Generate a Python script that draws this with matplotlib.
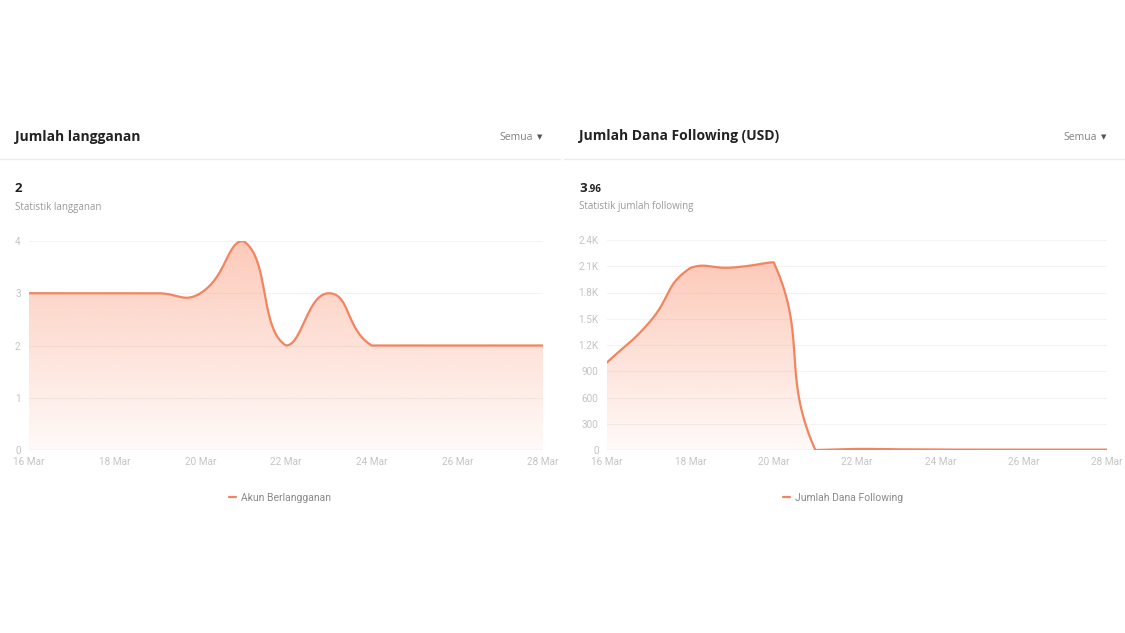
import numpy as np
import matplotlib
matplotlib.use("Agg")
import matplotlib.pyplot as plt
from matplotlib.lines import Line2D

# ---------------- data ----------------
days = [16, 17, 18, 19, 20, 21, 22, 23, 24, 25, 26, 27, 28]
tick_days = [16, 18, 20, 22, 24, 26, 28]
tick_labels = ["16 Mar", "18 Mar", "20 Mar", "22 Mar", "24 Mar", "26 Mar", "28 Mar"]

subs_values = [3, 3, 3, 3, 3, 4, 2, 3, 2, 2, 2, 2, 2]
subs_yticks = [0, 1, 2, 3, 4]
subs_ylabels = ["0", "1", "2", "3", "4"]

fund_values = [1000, 1450, 2080, 2085, 2145, 0, 12, 8, 5, 4, 4, 4, 3.96]
fund_yticks = [0, 300, 600, 900, 1200, 1500, 1800, 2100, 2400]
fund_ylabels = ["0", "300", "600", "900", "1.2K", "1.5K", "1.8K", "2.1K", "2.4K"]

LINE = "#f2845f"
TICK_C = "#c4c4c4"
GRID_C = "#f3f3f3"

W, H = 1125, 633
fig = plt.figure(figsize=(W / 100, H / 100), dpi=100)
fig.patch.set_facecolor("white")


def fx(px):
    return px / W


def fy(py):
    return 1 - py / H


def smooth_curve(ax, xs, ys, smooth=0.5, n=60):
    pts = ax.transData.transform(np.column_stack([xs, ys]).astype(float))
    mn, mx = pts.min(axis=0), pts.max(axis=0)
    N = len(pts)
    cps = []
    for i in range(N):
        p = pts[i]
        prev = pts[i - 1] if i > 0 else p
        nxt = pts[i + 1] if i < N - 1 else p
        v = (nxt - prev) * smooth
        d0 = np.hypot(*(p - prev))
        d1 = np.hypot(*(p - nxt))
        s = d0 + d1
        if s:
            d0 /= s
            d1 /= s
        cp0 = np.clip(p - v * d0, mn, mx)
        cp1 = np.clip(p + v * d1, mn, mx)
        cps.append((cp0, cp1))
    t = np.linspace(0, 1, n)[:, None]
    out = [pts[0][None, :]]
    for i in range(N - 1):
        p0, c0, c1, p1 = pts[i], cps[i][1], cps[i + 1][0], pts[i + 1]
        seg = ((1 - t) ** 3) * p0 + 3 * ((1 - t) ** 2) * t * c0 + 3 * (1 - t) * t ** 2 * c1 + t ** 3 * p1
        out.append(seg[1:])
    curve = np.vstack(out)
    data = ax.transData.inverted().transform(curve)
    return data[:, 0], data[:, 1]


def draw_chart(box, values, yticks, ylabels, legend_label, legend_cx):
    x0, x1, ytop, ybot = box
    ax = fig.add_axes([fx(x0), fy(ybot), fx(x1 - x0), (ybot - ytop) / H])
    ax.set_xlim(days[0], days[-1])
    ax.set_ylim(yticks[0], yticks[-1])
    for s in ax.spines.values():
        s.set_visible(False)
    ax.set_facecolor("none")
    for yv in yticks[1:]:
        ax.axhline(yv, color=GRID_C, lw=0.8, zorder=0)
    ax.axhline(0, color="#dcdcdc", lw=1.0, zorder=3)

    cx, cy = smooth_curve(ax, days, values)
    poly = ax.fill_between(cx, cy, 0, color="none", lw=0)
    ymax = max(values)
    grad = np.zeros((256, 1, 4))
    rgb = matplotlib.colors.to_rgb("#fb9574")
    grad[:, 0, :3] = rgb
    grad[:, 0, 3] = np.linspace(0.5, 0.05, 256)
    im = ax.imshow(grad, extent=[days[0], days[-1], 0, ymax], aspect="auto",
                   origin="upper", zorder=1, interpolation="bilinear")
    path = poly.get_paths()[0]
    im.set_clip_path(path, transform=ax.transData)
    ax.set_ylim(yticks[0], yticks[-1])
    ax.set_xlim(days[0], days[-1])
    ax.plot(cx, cy, color=LINE, lw=1.6, zorder=4, solid_capstyle="round",
            label=legend_label)

    ax.set_yticks(yticks)
    ax.set_yticklabels(ylabels)
    ax.set_xticks(tick_days)
    ax.set_xticklabels(tick_labels)
    ax.tick_params(axis="both", length=0, labelsize=7.2, labelcolor=TICK_C)
    ax.tick_params(axis="y", pad=6)
    ax.tick_params(axis="x", pad=5)
    for lbl in ax.get_xticklabels() + ax.get_yticklabels():
        lbl.set_fontfamily("Roboto")

    leg = ax.legend(loc="center", bbox_to_anchor=(fx(legend_cx), fy(498)),
                    bbox_transform=fig.transFigure, frameon=False,
                    handlelength=0.7, handletextpad=0.5,
                    prop={"family": "Roboto", "size": 7.5})
    for txt in leg.get_texts():
        txt.set_color("#8a8a8a")
    return ax


# --------------- headers ---------------
HEAD = "Open Sans"
fig.text(fx(15), fy(137), "Jumlah langganan", fontsize=10, fontweight="bold",
         color="#222222", va="center", ha="left", family=HEAD)
fig.text(fx(579), fy(136), "Jumlah Dana Following (USD)", fontsize=10, fontweight="bold",
         color="#222222", va="center", ha="left", family=HEAD)
for xr in (533, 1097):
    fig.text(fx(xr), fy(137), "Semua", fontsize=7.5, color="#808080",
             va="center", ha="right", family=HEAD)
    fig.text(fx(xr + 4), fy(137), "\u25BC", fontsize=5, color="#555555",
             va="center", ha="left", family="DejaVu Sans")

fig.add_artist(Line2D([0, fx(560)], [fy(159), fy(159)], color="#ececec", lw=1))
fig.add_artist(Line2D([fx(564), 1], [fy(159), fy(159)], color="#ececec", lw=1))

fig.text(fx(15), fy(188.5), "2", fontsize=9.5, fontweight="bold", color="#222222",
         va="center", ha="left", family=HEAD)
fig.text(fx(15), fy(207.5), "Statistik langganan", fontsize=7, color="#999999",
         va="center", ha="left", family=HEAD)

fig.text(fx(579), fy(188.5), "3", fontsize=9.5, fontweight="bold", color="#222222",
         va="center", ha="left", family=HEAD)
fig.text(fx(588), fy(189.5), ".96", fontsize=7, fontweight="bold", color="#222222",
         va="center", ha="left", family=HEAD)
fig.text(fx(579), fy(206.5), "Statistik jumlah following", fontsize=7, color="#999999",
         va="center", ha="left", family=HEAD)

# --------------- charts ---------------
draw_chart((29, 543, 241, 450), subs_values, subs_yticks, subs_ylabels,
           "Akun Berlangganan", 280)
draw_chart((607, 1107, 240, 450), fund_values, fund_yticks, fund_ylabels,
           "Jumlah Dana Following", 843)

fig.savefig("out.png", dpi=100, facecolor="white")
